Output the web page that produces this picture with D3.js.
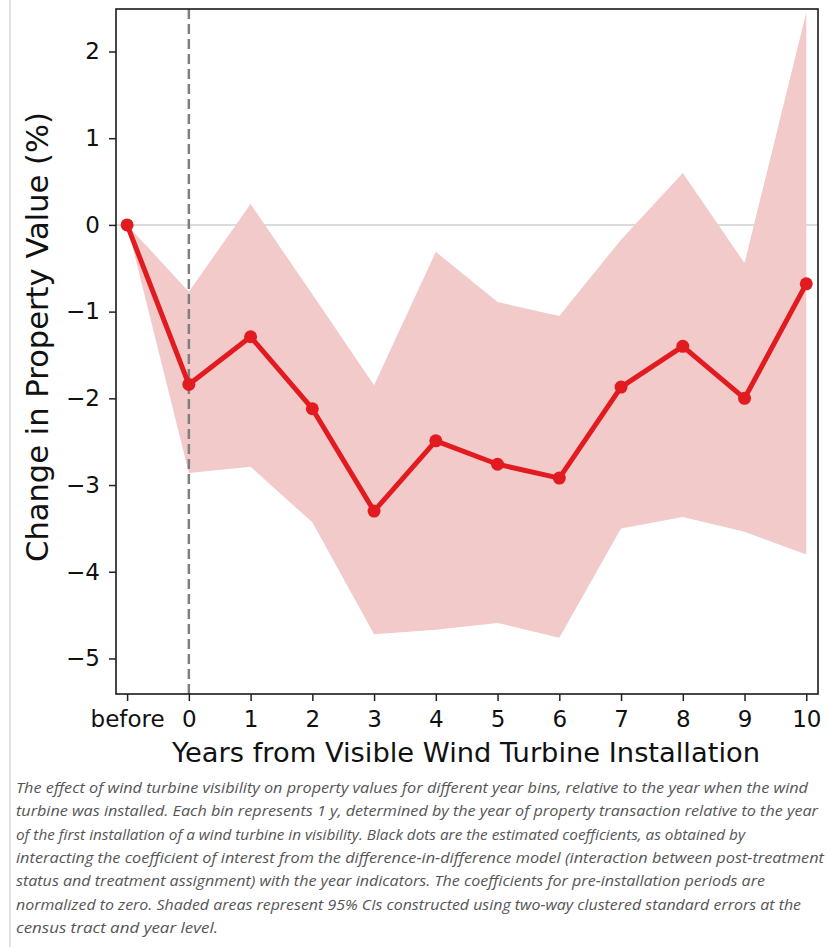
<!DOCTYPE html>
<html>
<head>
<meta charset="utf-8">
<script src="https://cdn.jsdelivr.net/npm/d3@7"></script>
<style>
  html, body { margin: 0; padding: 0; background: #fff; }
  svg { display: block; }
</style>
</head>
<body>
<svg id="chart" width="827" height="947"></svg>
<script>
// ---- data ----
const xPositions = [-1, 0, 1, 2, 3, 4, 5, 6, 7, 8, 9, 10];
const xTickLabels = ["before", "0", "1", "2", "3", "4", "5", "6", "7", "8", "9", "10"];
const estimates = [0, -1.84, -1.29, -2.12, -3.30, -2.49, -2.76, -2.92, -1.87, -1.40, -2.00, -0.68];
const ciUpper = [0, -0.77, 0.24, -0.80, -1.85, -0.31, -0.89, -1.05, -0.17, 0.60, -0.44, 2.45];
const ciLower = [0, -2.86, -2.79, -3.43, -4.72, -4.67, -4.59, -4.76, -3.50, -3.37, -3.54, -3.80];
const yTicks = [-5, -4, -3, -2, -1, 0, 1, 2];
const captionLines = [
  "The effect of wind turbine visibility on property values for different year bins, relative to the year when the wind",
  "turbine was installed. Each bin represents 1 y, determined by the year of property transaction relative to the year",
  "of the first installation of a wind turbine in visibility. Black dots are the estimated coefficients, as obtained by",
  "interacting the coefficient of interest from the difference-in-difference model (interaction between post-treatment",
  "status and treatment assignment) with the year indicators. The coefficients for pre-installation periods are",
  "normalized to zero. Shaded areas represent 95% CIs constructed using two-way clustered standard errors at the",
  "census tract and year level."
];
const captionWidths = [792, 802, 729, 808, 749, 785, 202];

// ---- layout ----
const svg = d3.select("#chart");
const plot = { left: 116, right: 818, top: 9, bottom: 694 };

const x = d3.scaleLinear().domain([-1.18, 10.19]).range([plot.left, plot.right]);
const y = d3.scaleLinear().domain([-5.41, 2.49]).range([plot.bottom, plot.top]);

// left page border
svg.append("line").attr("x1", 10).attr("x2", 10).attr("y1", 0).attr("y2", 947)
  .attr("stroke", "#e2e2e2").attr("stroke-width", 2);

const data = xPositions.map((p, i) => ({ p, est: estimates[i], lo: ciLower[i], hi: ciUpper[i] }));

// zero line
svg.append("line")
  .attr("x1", plot.left).attr("x2", plot.right)
  .attr("y1", y(0)).attr("y2", y(0))
  .attr("stroke", "#cfcfcf").attr("stroke-width", 1.5);

// CI band
svg.append("path").datum(data)
  .attr("fill", "#f3caca")
  .attr("d", d3.area().x(d => x(d.p)).y0(d => y(d.lo)).y1(d => y(d.hi)));

// vertical dashed line at 0
svg.append("line")
  .attr("x1", x(0)).attr("x2", x(0))
  .attr("y1", plot.top).attr("y2", plot.bottom)
  .attr("stroke", "#7f7f7f").attr("stroke-width", 2.5)
  .attr("stroke-dasharray", "10,5");

// estimate line
svg.append("path").datum(data)
  .attr("fill", "none").attr("stroke", "#e11b1f").attr("stroke-width", 5)
  .attr("stroke-linejoin", "round")
  .attr("d", d3.line().x(d => x(d.p)).y(d => y(d.est)));

svg.selectAll("circle.pt").data(data).enter().append("circle")
  .attr("class", "pt")
  .attr("cx", d => x(d.p)).attr("cy", d => y(d.est)).attr("r", 6.5)
  .attr("fill", "#e11b1f");

// frame
svg.append("rect")
  .attr("x", plot.left).attr("y", plot.top)
  .attr("width", plot.right - plot.left).attr("height", plot.bottom - plot.top)
  .attr("fill", "none").attr("stroke", "#1a1a1a").attr("stroke-width", 1.6);

// axes
const xAxis = d3.axisBottom(x).tickValues(xPositions)
  .tickFormat((d, i) => xTickLabels[i]).tickSize(7).tickPadding(10);
const gx = svg.append("g").attr("transform", `translate(0,${plot.bottom})`).call(xAxis);
gx.select(".domain").remove();
gx.selectAll(".tick line").attr("stroke", "#222").attr("stroke-width", 1.5);
gx.selectAll(".tick text").attr("font-family", "DejaVu Sans").attr("font-size", 23).attr("fill", "#111");

const yAxis = d3.axisLeft(y).tickValues(yTicks)
  .tickFormat(d => d < 0 ? "\u2212" + Math.abs(d) : String(d)).tickSize(7).tickPadding(9);
const gy = svg.append("g").attr("transform", `translate(${plot.left},0)`).call(yAxis);
gy.select(".domain").remove();
gy.selectAll(".tick line").attr("stroke", "#222").attr("stroke-width", 1.5);
gy.selectAll(".tick text").attr("font-family", "DejaVu Sans").attr("font-size", 23).attr("fill", "#111");

// fit a text element's font size to a target width
function fitWidth(sel, target) {
  const fs = +sel.attr("font-size");
  const w = sel.node().getComputedTextLength();
  if (w > 0) sel.attr("font-size", fs * target / w);
}

// axis labels
const xl = svg.append("text")
  .attr("x", 466).attr("y", 762)
  .attr("text-anchor", "middle")
  .attr("font-family", "DejaVu Sans").attr("font-size", 27.4).attr("fill", "#111")
  .text("Years from Visible Wind Turbine Installation");
fitWidth(xl, 588);

const yl = svg.append("text")
  .attr("transform", `translate(48, 337) rotate(-90)`)
  .attr("text-anchor", "middle")
  .attr("font-family", "DejaVu Sans").attr("font-size", 30).attr("fill", "#111")
  .text("Change in Property Value (%)");
fitWidth(yl, 450);

// caption
const cap = svg.append("g");
captionLines.forEach((line, i) => {
  cap.append("text")
    .attr("x", 16).attr("y", 793 + i * 23.3)
    .attr("font-family", "Open Sans").attr("font-style", "italic")
    .attr("font-size", 14).attr("fill", "#555")
    .attr("textLength", captionWidths[i]).attr("lengthAdjust", "spacingAndGlyphs")
    .text(line);
});
</script>
</body>
</html>
